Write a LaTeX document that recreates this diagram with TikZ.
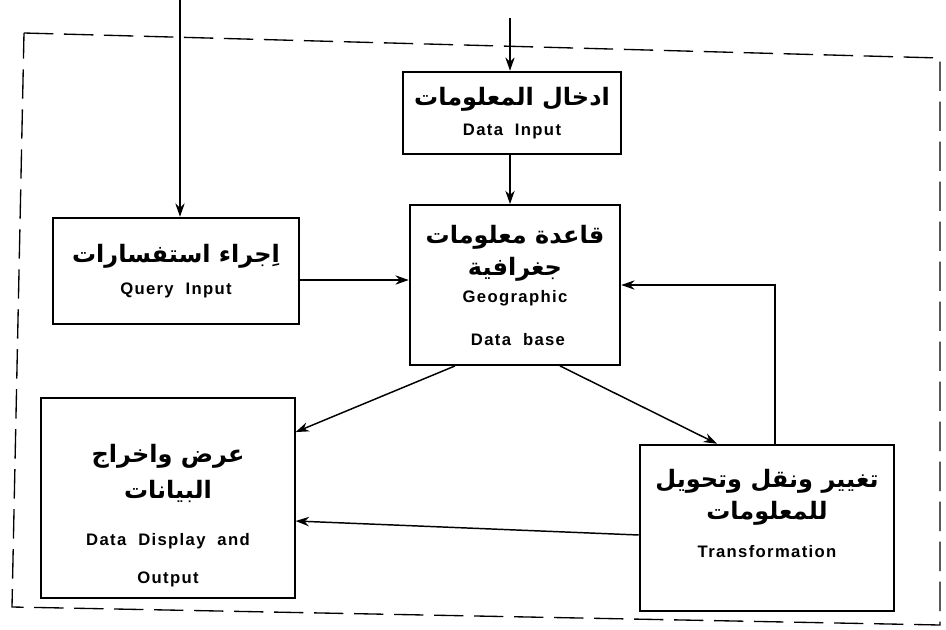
\documentclass[tikz,border=0pt]{standalone}
\usepackage{fontspec}
\setmainfont{Liberation Sans}
\newfontfamily\engfont[LetterSpace=8]{Liberation Sans}
\newfontfamily\arabicfont[Script=Arabic]{DejaVu Sans}
\TeXXeTstate=1
\usetikzlibrary{positioning,arrows.meta,calc}
\newcommand{\artext}[1]{{\arabicfont\bfseries\fontsize{18pt}{21pt}\selectfont\beginR #1\endR}}
\newcommand{\entext}[1]{{\engfont\bfseries\fontsize{12.5pt}{14pt}\selectfont #1}}

\begin{document}
\begin{tikzpicture}[x=0.75pt, y=-0.75pt]
\tikzset{
  box/.style={draw, line width=1.4pt, align=center, inner sep=0pt},
  link/.style={-{Stealth[length=10pt,width=7pt]}, line width=1.1pt},
  frame/.style={line width=1pt, dash pattern=on 22pt off 8pt}
}
\useasboundingbox (0,0) rectangle (946,629);

% Outer boundary
\draw[frame] (24,33) -- (940,58) -- (940,625) -- (12,607) -- cycle;

% Boxes
\node[box, minimum width=164pt, minimum height=62pt] (datain) at (512,113)
  {\artext{ادخال المعلومات}\\[8pt] \entext{Data~~Input}};
\node[box, minimum width=185pt, minimum height=80pt] (query) at (176,271)
  {\artext{اِجراء استفسارات}\\[10pt] \entext{Query~~Input}};
\node[box, minimum width=158pt, minimum height=120pt] (geodb) at (515,285)
  {\artext{قاعدة معلومات}\\[5pt] \artext{جغرافية}\\[6pt] \entext{Geographic}\\[20pt] \entext{~Data~~base}};
\node[box, minimum width=190pt, minimum height=150pt] (display) at (168,498)
  {\rule{0pt}{40pt}\artext{عرض واخراج}\\[8pt] \artext{البيانات}\\[22pt] \entext{Data~~Display~~and}\\[17pt] \entext{Output}};
\node[box, minimum width=191pt, minimum height=125pt] (transf) at (767,528)
  {\artext{تغيير ونقل وتحويل}\\[5pt] \artext{للمعلومات}\\[14pt] \entext{Transformation}\\[10pt]};

% Inputs from outside
\coordinate (qin) at (180,0);
\coordinate (din) at (510,18);
\coordinate (qy) at (0,280);
\draw[link] (qin) -- (qin |- query.north);
\draw[link] (din) -- (din |- datain.north);

% Flow between boxes
\draw[link] (datain.south -| din) -- (din |- geodb.north);
\draw[link] (query.east |- qy) -- (geodb.west |- qy);
\draw[link] ($(transf.north)+(8,0)$) |- (geodb.east);
\draw[link] ($(geodb.south)+(-60,0)$) -- ($(display.north east)+(0,35)$);
\draw[link] ($(geodb.south)+(45,0)$) -- ($(transf.north)+(-50,0)$);
\draw[link] ($(transf.west)+(0,7)$) -- ($(display.east)+(0,23)$);
\end{tikzpicture}
\end{document}
